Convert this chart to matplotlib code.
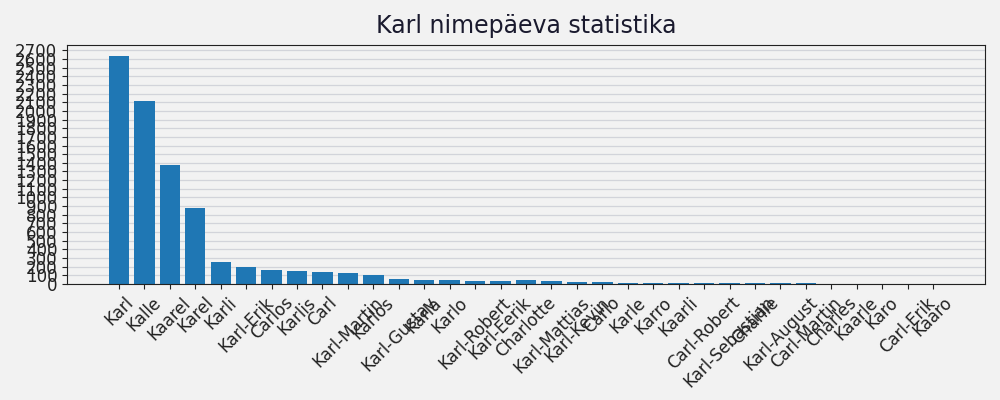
import matplotlib
matplotlib.use("Agg")
import matplotlib.pyplot as plt
import numpy as np

names = ["Karl", "Kalle", "Kaarel", "Karel", "Karli", "Karl-Erik", "Carlos", "Karlis",
         "Carl", "Karl-Martin", "Karlos", "Karl-Gustav", "Karla", "Karlo", "Karl-Robert",
         "Karl-Eerik", "Charlotte", "Karl-Mattias", "Karl-Kevin", "Carlo", "Karle", "Karro",
         "Kaarli", "Carl-Robert", "Karl-Sebastian", "Charlie", "Karl-August", "Carl-Martin",
         "Charles", "Kaarle", "Karo", "Carl-Erik", "Kaaro"]
counts = [2630, 2115, 1380, 880, 255, 195, 160, 150, 138, 126, 103, 54, 42, 42, 31,
          31, 42, 31, 19, 19, 8, 8, 8, 8, 8, 8, 8, 8, 0, 0, 0, 0, 0]
y_ticks = list(range(0, 2800, 100))

bg = "#f2f2f2"
fig = plt.figure(figsize=(10, 4), dpi=100, facecolor=bg)
ax = fig.add_axes([0.067, 0.29, 0.918, 0.5975])
ax.set_facecolor(bg)
ax.set_axisbelow(True)
ax.yaxis.grid(True, color="#d2d4da", linewidth=0.9)
ax.bar(names, counts, color="#1f77b4")
ax.set_yticks(y_ticks)
ax.tick_params(axis="y", labelsize=12, colors="#222222")
ax.tick_params(axis="x", labelsize=12, labelrotation=45, colors="#222222")
for s in ax.spines.values():
    s.set_color("#222222")
ax.set_title("Karl nimepäeva statistika", fontsize=17, color="#1a1a2e", pad=9)
fig.savefig("out.png", facecolor=bg)
